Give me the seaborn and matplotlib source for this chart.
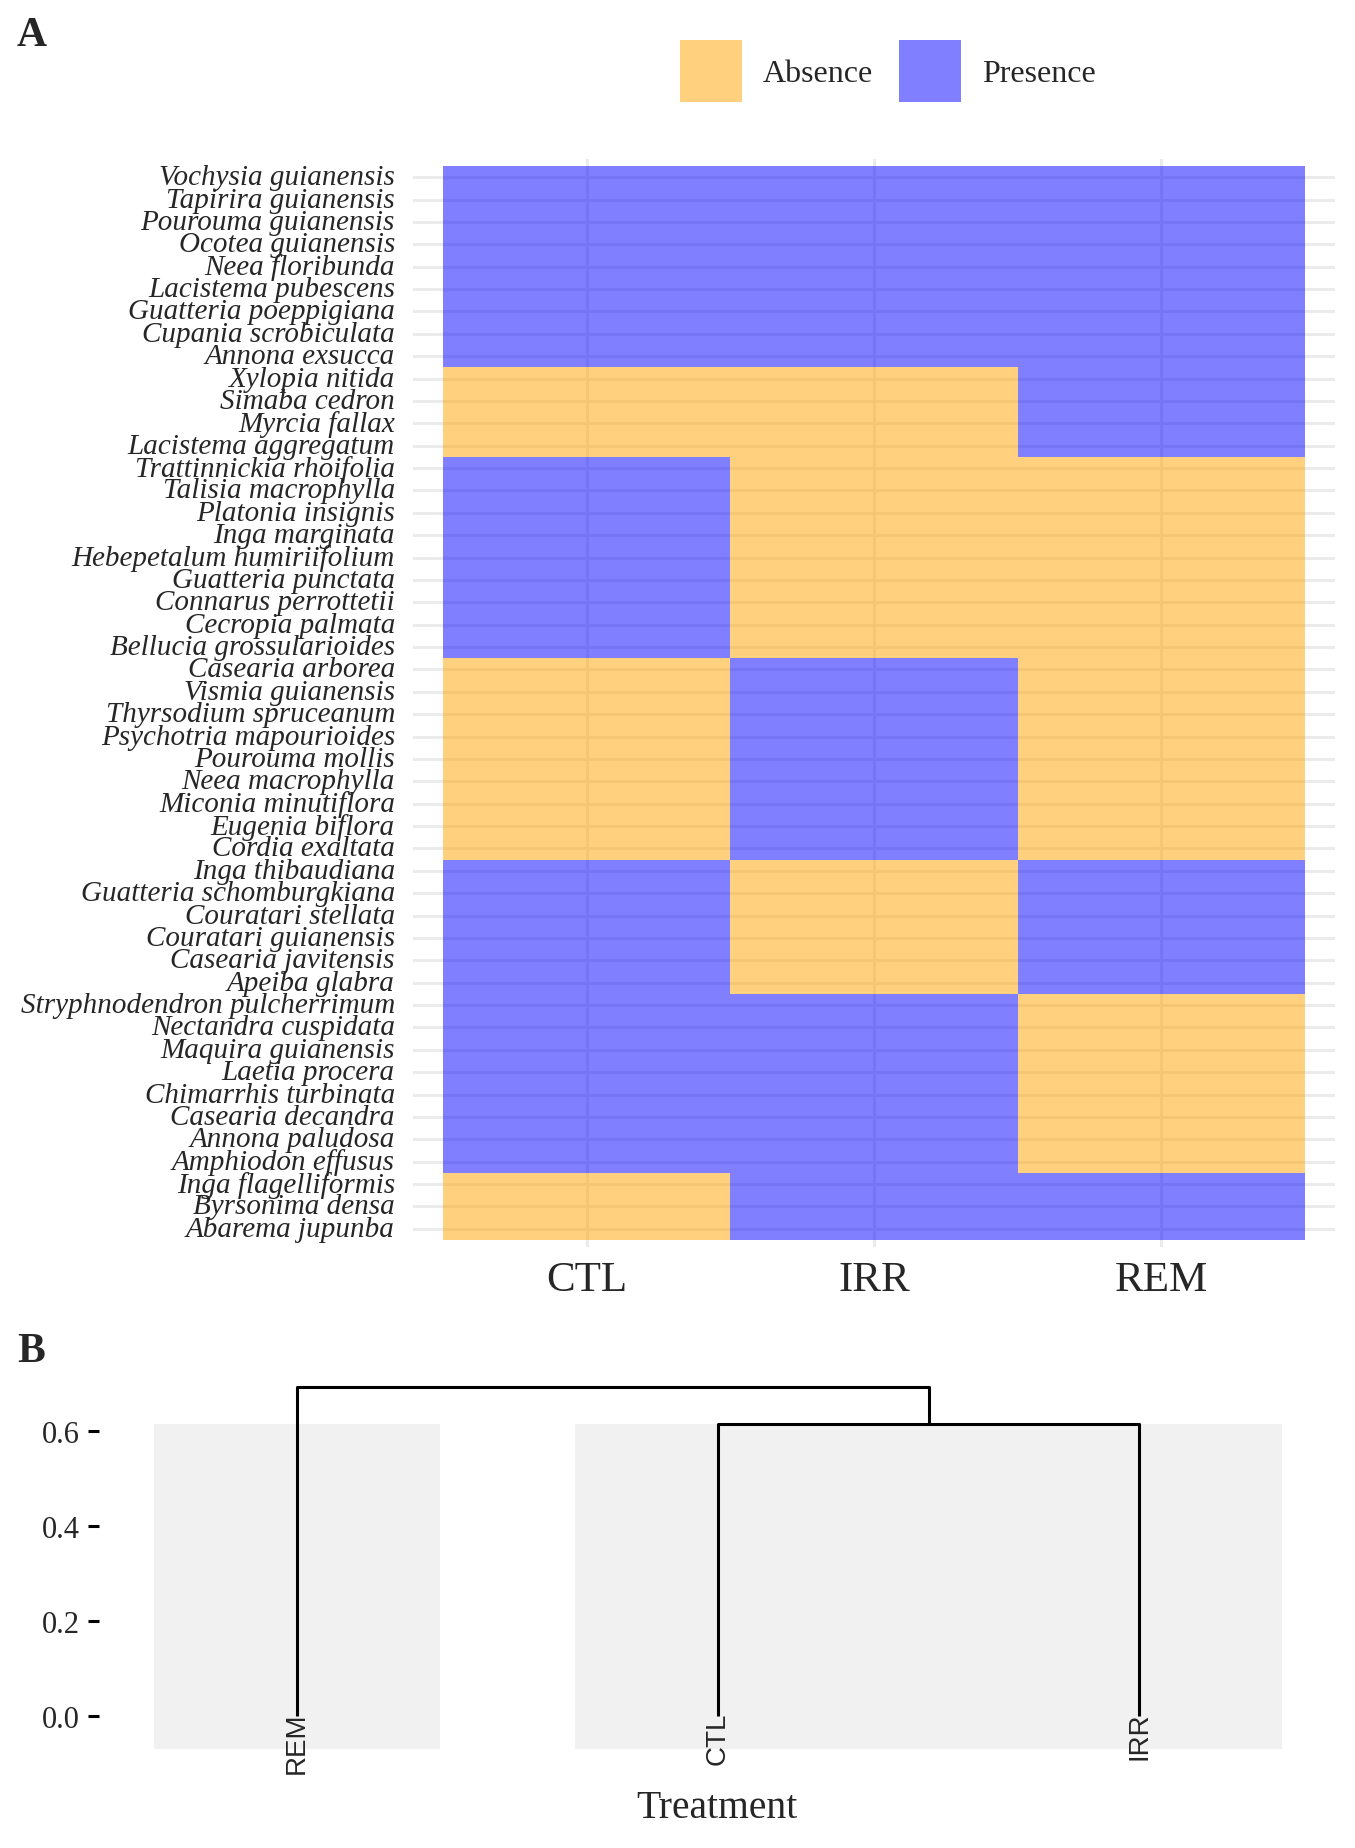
import matplotlib
import matplotlib.pyplot as plt
import numpy as np
import pandas as pd
import seaborn as sns
from matplotlib.colors import ListedColormap
from matplotlib.patches import Patch

matplotlib.use("Agg")

# ---------------------------------------------------------------------------
# Data
# ---------------------------------------------------------------------------
treatments = ["CTL", "IRR", "REM"]

species = [
    "Vochysia guianensis", "Tapirira guianensis", "Pourouma guianensis",
    "Ocotea guianensis", "Neea floribunda", "Lacistema pubescens",
    "Guatteria poeppigiana", "Cupania scrobiculata", "Annona exsucca",
    "Xylopia nitida", "Simaba cedron", "Myrcia fallax", "Lacistema aggregatum",
    "Trattinnickia rhoifolia", "Talisia macrophylla", "Platonia insignis",
    "Inga marginata", "Hebepetalum humiriifolium", "Guatteria punctata",
    "Connarus perrottetii", "Cecropia palmata", "Bellucia grossularioides",
    "Casearia arborea", "Vismia guianensis", "Thyrsodium spruceanum",
    "Psychotria mapourioides", "Pourouma mollis", "Neea macrophylla",
    "Miconia minutiflora", "Eugenia biflora", "Cordia exaltata",
    "Inga thibaudiana", "Guatteria schomburgkiana", "Couratari stellata",
    "Couratari guianensis", "Casearia javitensis", "Apeiba glabra",
    "Stryphnodendron pulcherrimum", "Nectandra cuspidata", "Maquira guianensis",
    "Laetia procera", "Chimarrhis turbinata", "Casearia decandra",
    "Annona paludosa", "Amphiodon effusus", "Inga flagelliformis",
    "Byrsonima densa", "Abarema jupunba",
]

# 1 = presence, 0 = absence (columns CTL, IRR, REM)
ctl = [1] * 9 + [0] * 4 + [1] * 9 + [0] * 9 + [1] * 6 + [1] * 8 + [0] * 3
irr = [1] * 9 + [0] * 4 + [0] * 9 + [1] * 9 + [0] * 6 + [1] * 8 + [1] * 3
rem = [1] * 9 + [1] * 4 + [0] * 9 + [0] * 9 + [1] * 6 + [0] * 8 + [1] * 3

status_labels = ["Absence", "Presence"]
status_colors = ["orange", "blue"]

# dendrogram (Jaccard distance, complete linkage)
leaf_order = ["REM", "CTL", "IRR"]
merge_heights = [0.614, 0.692]   # CTL+IRR, then REM
y_ticks = [0.0, 0.2, 0.4, 0.6]

SERIF = "Liberation Serif"
SANS = "Liberation Sans"

sns.set_theme(style="white")
plt.rcParams["font.family"] = [SERIF, "DejaVu Serif"]

fig = plt.figure(figsize=(13.55, 18.49), dpi=100)

# ---------------------------------------------------------------------------
# Panel A — presence / absence tiles
# ---------------------------------------------------------------------------
df = pd.DataFrame({"CTL": ctl, "IRR": irr, "REM": rem}, index=species)[treatments]

ax = fig.add_axes([0.3048, 0.3252, 0.6804, 0.5881])
n_rows, n_cols = df.shape

# light grid sitting underneath the translucent tiles
for i in range(n_rows):
    ax.axhline(i + 0.5, color="#EBEBEB", lw=2.2, zorder=0)
for j in range(n_cols):
    ax.axvline(j + 0.5, color="#EBEBEB", lw=2.2, zorder=0)

sns.heatmap(df, ax=ax, cmap=ListedColormap(status_colors), vmin=0, vmax=1,
            alpha=0.5, cbar=False, linewidths=0,
            xticklabels=treatments, yticklabels=species, zorder=1)

ax.set_xlim(-0.1045, n_cols + 0.1045)
ax.set_ylim(n_rows + 0.3, -0.3)
ax.set_xlabel("")
ax.set_ylabel("")
ax.tick_params(axis="y", length=0, pad=13, labelsize=21)
ax.tick_params(axis="x", length=0, pad=10, labelsize=31)
for lbl in ax.get_yticklabels():
    lbl.set_fontstyle("italic")
    lbl.set_rotation(0)
for s in ax.spines.values():
    s.set_visible(False)

handles = [Patch(facecolor=c, alpha=0.5, edgecolor="none") for c in status_colors]
fig.legend(handles, status_labels, loc="center", ncol=2, frameon=False,
           bbox_to_anchor=(888 / 1355, 1 - 72 / 1849), fontsize=23,
           handlelength=1.94, handleheight=2.61, handletextpad=0.66,
           columnspacing=0.8, borderpad=0)

fig.text(17 / 1355, 1 - 17 / 1849, "A", fontsize=30, fontweight="bold",
         ha="left", va="top")

# ---------------------------------------------------------------------------
# Panel B — dendrogram of treatments
# ---------------------------------------------------------------------------
axb = fig.add_axes([0.0731, 0.0406, 0.9137, 0.2185])
pos = {name: i + 1 for i, name in enumerate(leaf_order)}
h1, h2 = merge_heights

# cluster rectangles (k = 2)
clusters = [["REM"], ["CTL", "IRR"]]
for cl in clusters:
    xs = [pos[c] for c in cl]
    axb.fill_between([min(xs) - 0.34, max(xs) + 0.34], -0.07, h1,
                     color="#F1F1F1", lw=0, zorder=0)

lc = dict(color="black", lw=2.2, solid_capstyle="butt", zorder=2)
xc, xi, xr = pos["CTL"], pos["IRR"], pos["REM"]
mid = (xc + xi) / 2
axb.plot([xc, xc, xi, xi], [0, h1, h1, 0], **lc)
axb.plot([xr, xr, mid, mid], [0, h2, h2, h1], **lc)

for name, x in pos.items():
    axb.text(x, 0.01, name, rotation=90, ha="center", va="top",
             fontsize=20, family=[SANS, "DejaVu Sans"])

axb.set_xlim(0.53, 3.47)
axb.set_ylim(-0.12, 0.73)
axb.set_xticks([])
axb.set_yticks(y_ticks)
axb.set_yticklabels([f"{v:.1f}" for v in y_ticks])
axb.tick_params(axis="y", left=True, length=8, width=2.2, color="black",
                pad=6, labelsize=22, direction="out")
for s in axb.spines.values():
    s.set_visible(False)
axb.set_xlabel("Treatment", fontsize=28.5)
axb.xaxis.set_label_coords(0.499, -0.04)

fig.text(17 / 1355, 1 - 1333 / 1849, "B", fontsize=30, fontweight="bold",
         ha="left", va="top")

fig.savefig("out.png", dpi=100)
